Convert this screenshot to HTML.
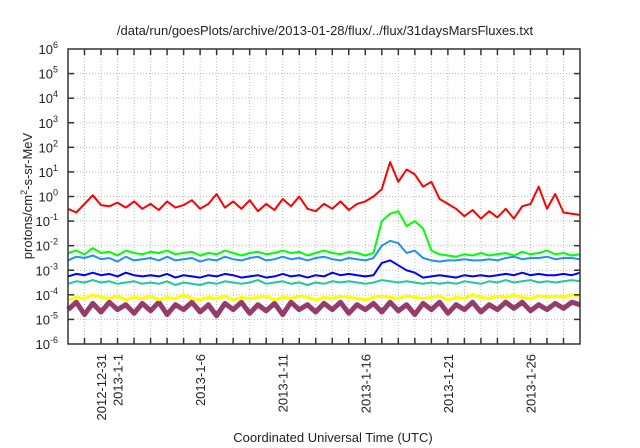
<!DOCTYPE html>
<html><head><meta charset="utf-8"><style>
html,body{margin:0;padding:0;background:#fff;}
svg{display:block;font-family:"Liberation Sans",Arial,sans-serif;}
</style></head><body>
<svg id="chart" width="640" height="448" viewBox="0 0 640 448" xmlns="http://www.w3.org/2000/svg">
<text x="325" y="35" font-size="13" text-anchor="middle" fill="#222">/data/run/goesPlots/archive/2013-01-28/flux/../flux/31daysMarsFluxes.txt</text>
<text x="333" y="442" font-size="13" text-anchor="middle" fill="#222">Coordinated Universal Time (UTC)</text>
<text transform="translate(32,196) rotate(-90)" font-size="13" text-anchor="middle" fill="#222">protons/cm<tspan dy="-5" font-size="9">2</tspan><tspan dy="5">-s-sr-MeV</tspan></text>
<g id="grid"></g><g id="series"></g><g id="axes"></g>
</svg>
<script>
const yTickExps=[-6,-5,-4,-3,-2,-1,0,1,2,3,4,5,6];
const xLabelDays=[2,3,8,13,18,23,28];
const xLabels=["2012-12-31","2013-1-1","2013-1-6","2013-1-11","2013-1-16","2013-1-21","2013-1-26"];
const stepDays=0.5;
const red=[-0.5,-0.65,-0.3,0.05,-0.35,-0.4,-0.25,-0.45,-0.2,-0.5,-0.3,-0.55,-0.2,-0.45,-0.35,-0.15,-0.5,-0.3,0.1,-0.45,-0.2,-0.5,-0.15,-0.6,-0.3,-0.55,-0.1,-0.4,0.0,-0.5,-0.6,-0.3,-0.5,-0.2,-0.55,-0.3,-0.2,0.0,0.3,1.4,0.6,1.1,0.9,0.4,0.6,-0.1,-0.3,-0.5,-0.8,-0.55,-0.9,-0.6,-0.85,-0.5,-0.9,-0.4,-0.3,0.4,-0.5,0.1,-0.65,-0.7,-0.75];
const green=[-2.3,-2.2,-2.35,-2.1,-2.3,-2.25,-2.4,-2.2,-2.3,-2.35,-2.25,-2.3,-2.2,-2.35,-2.3,-2.25,-2.4,-2.3,-2.35,-2.2,-2.3,-2.4,-2.3,-2.25,-2.35,-2.3,-2.2,-2.3,-2.25,-2.4,-2.3,-2.2,-2.3,-2.35,-2.25,-2.3,-2.4,-2.3,-1.0,-0.7,-0.6,-1.2,-1.0,-1.3,-2.2,-2.35,-2.4,-2.45,-2.35,-2.4,-2.3,-2.4,-2.35,-2.3,-2.4,-2.25,-2.35,-2.3,-2.2,-2.35,-2.3,-2.4,-2.35];
const lightBlue=[-2.6,-2.45,-2.5,-2.4,-2.55,-2.5,-2.65,-2.45,-2.6,-2.55,-2.5,-2.6,-2.45,-2.6,-2.55,-2.5,-2.65,-2.55,-2.6,-2.45,-2.55,-2.6,-2.5,-2.45,-2.6,-2.55,-2.45,-2.55,-2.5,-2.6,-2.5,-2.45,-2.55,-2.6,-2.5,-2.55,-2.6,-2.5,-2.0,-1.8,-1.9,-2.3,-2.2,-2.5,-2.6,-2.65,-2.6,-2.6,-2.55,-2.6,-2.6,-2.55,-2.6,-2.5,-2.45,-2.55,-2.5,-2.5,-2.45,-2.55,-2.5,-2.5,-2.55];
const blue=[-3.25,-3.15,-3.2,-3.1,-3.2,-3.15,-3.25,-3.1,-3.2,-3.25,-3.2,-3.25,-3.15,-3.3,-3.2,-3.25,-3.3,-3.2,-3.25,-3.15,-3.2,-3.3,-3.25,-3.2,-3.3,-3.25,-3.15,-3.25,-3.2,-3.3,-3.2,-3.25,-3.1,-3.2,-3.15,-3.2,-3.25,-3.2,-2.7,-2.6,-2.8,-3.0,-3.1,-3.3,-3.25,-3.2,-3.25,-3.3,-3.2,-3.25,-3.2,-3.25,-3.2,-3.15,-3.2,-3.1,-3.2,-3.15,-3.2,-3.2,-3.15,-3.2,-3.1];
const teal=[-3.55,-3.45,-3.5,-3.4,-3.5,-3.45,-3.55,-3.5,-3.45,-3.55,-3.5,-3.55,-3.45,-3.6,-3.5,-3.55,-3.6,-3.5,-3.55,-3.45,-3.5,-3.55,-3.5,-3.4,-3.55,-3.5,-3.45,-3.55,-3.5,-3.6,-3.5,-3.55,-3.45,-3.5,-3.45,-3.5,-3.55,-3.5,-3.4,-3.45,-3.5,-3.45,-3.5,-3.55,-3.5,-3.55,-3.5,-3.55,-3.45,-3.5,-3.55,-3.45,-3.5,-3.4,-3.5,-3.45,-3.4,-3.5,-3.45,-3.5,-3.45,-3.4,-3.45];
const yellow=[-4.2,-4.1,-4.15,-4.0,-4.1,-4.15,-4.05,-4.2,-4.1,-4.15,-4.05,-4.2,-4.1,-4.15,-4.0,-4.15,-4.2,-4.1,-4.15,-4.05,-4.2,-4.1,-4.15,-4.1,-4.05,-4.2,-4.1,-4.15,-4.05,-4.1,-4.2,-4.1,-4.15,-4.05,-4.1,-4.15,-4.2,-4.1,-4.05,-4.1,-4.15,-4.05,-4.1,-4.15,-4.1,-4.05,-4.2,-4.1,-4.15,-4.0,-4.1,-4.15,-4.05,-4.1,-4.0,-4.1,-4.15,-4.05,-4.1,-4.05,-4.1,-4.0,-4.05];
const purple=[-4.6,-4.3,-4.8,-4.35,-4.7,-4.3,-4.6,-4.4,-4.75,-4.35,-4.65,-4.3,-4.8,-4.4,-4.6,-4.3,-4.7,-4.4,-4.85,-4.35,-4.6,-4.3,-4.75,-4.4,-4.65,-4.35,-4.8,-4.3,-4.6,-4.4,-4.7,-4.35,-4.6,-4.3,-4.75,-4.4,-4.6,-4.35,-4.7,-4.3,-4.65,-4.4,-4.8,-4.35,-4.6,-4.3,-4.75,-4.4,-4.6,-4.3,-4.7,-4.4,-4.6,-4.3,-4.55,-4.3,-4.65,-4.4,-4.6,-4.35,-4.55,-4.3,-4.4];

const L=68,R=580,T=49,B=344,NDAYS=31;
const xs=d=>L+(d/NDAYS)*(R-L);
const ys=e=>T+(6-e)/12*(B-T);
const NS="http://www.w3.org/2000/svg";
function mk(tag,attrs,parent){const el=document.createElementNS(NS,tag);for(const k in attrs)el.setAttribute(k,attrs[k]);parent.appendChild(el);return el;}
const grid=document.getElementById('grid'),ser=document.getElementById('series'),ax=document.getElementById('axes');
for(let d=1;d<NDAYS;d++){
  const x=xs(d);
  const g=mk('line',{x1:x,x2:x,y1:T,y2:B,stroke:'#bbb','stroke-width':1,'stroke-dasharray':'1,2'},grid);
  
  
  const t1=mk('line',{x1:x,x2:x,y1:B,y2:B-6,stroke:'#333','stroke-width':1.5},ax);
  
  
  const t2=mk('line',{x1:x,x2:x,y1:T,y2:T+6,stroke:'#333','stroke-width':1.5},ax);
  
  
}
yTickExps.forEach(e=>{
  const y=ys(e);
  if(e>-6&&e<6){
    const g=mk('line',{x1:L,x2:R,y1:y,y2:y,stroke:'#bbb','stroke-width':1,'stroke-dasharray':'1,2'},grid);
    
    
    const t=mk('line',{x1:L,x2:L+6,y1:y,y2:y,stroke:'#333','stroke-width':1.5},ax);
    
    
    const t2=mk('line',{x1:R,x2:R-6,y1:y,y2:y,stroke:'#333','stroke-width':1.5},ax);
    
    
  }
  const tx=mk('text',{x:L-10,y:y+5,'font-size':13,'text-anchor':'end',fill:'#222'},ax);
  
  
  tx.innerHTML='10<tspan dy="-6" font-size="9">'+e+'</tspan>';
});
xLabelDays.forEach((d,i)=>{
  const x=xs(d);
  const tx=mk('text',{transform:`translate(${x+5},${B+10}) rotate(-90)`,'font-size':13,'text-anchor':'end',fill:'#222'},ax);
  
  
  tx.textContent=xLabels[i];
});
const series=[[purple,'#963c6c',5,'series-purple'],[yellow,'#ffff00',3,'series-yellow'],[teal,'#20c8a0',2,'series-teal'],[blue,'#0000ff',2,'series-blue'],[lightBlue,'#1e90ff',2,'series-light-blue'],[green,'#00ff00',2,'series-green'],[red,'#ff0000',2,'series-red']];
series.forEach(([arr,c,w,name])=>{
  const pts=arr.map((v,i)=>xs(i*stepDays).toFixed(1)+','+ys(v).toFixed(1)).join(' ');
  const p=mk('polyline',{points:pts,fill:'none',stroke:c,'stroke-width':w,'stroke-linejoin':'round'},ser);
  
  
});
const fr=mk('rect',{x:L,y:T,width:R-L,height:B-T,fill:'none',stroke:'#333','stroke-width':1.5},ax);


</script>
</body></html>
